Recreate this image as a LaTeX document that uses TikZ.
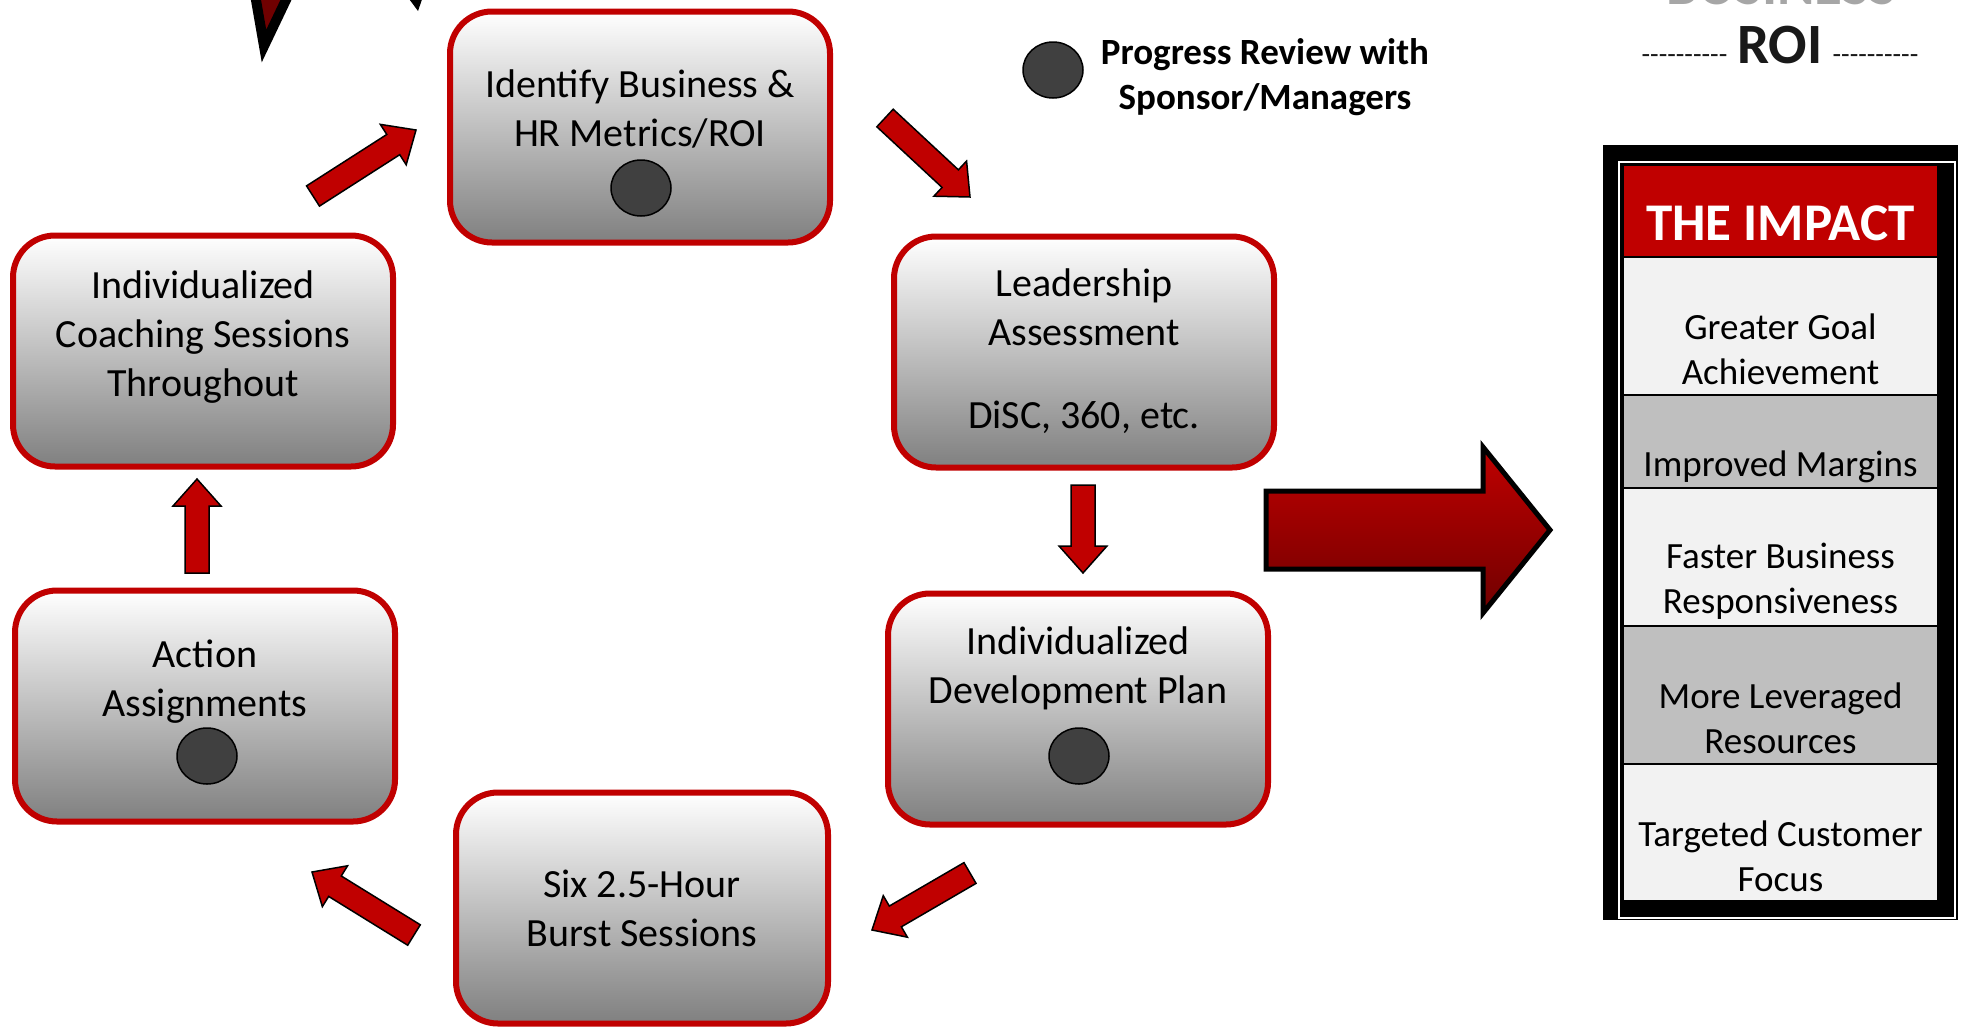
\documentclass[tikz,border=0pt]{standalone}
\usepackage{fontspec}
\setmainfont{Carlito}
\usetikzlibrary{positioning, calc, shapes.geometric}
\definecolor{brickred}{HTML}{C00000}
\definecolor{dotgray}{HTML}{404040}
\definecolor{rowlight}{HTML}{F2F2F2}
\definecolor{rowdark}{HTML}{BFBFBF}
\tikzset{
stepbox/.style={draw=brickred, line width=6pt, rounded corners=42pt, top color=white, bottom color=black!50,
  minimum width=380pt, minimum height=231pt, inner sep=0pt, align=center,
  font=\fontsize{40}{49}\selectfont, text depth=8pt},
review/.style={ellipse, draw=black, line width=1.5pt, fill=dotgray, minimum width=60pt, minimum height=56pt, inner sep=0pt},
cyclearrow/.style={draw=black, line width=1.5pt, fill=brickred, line join=miter},
impactrow/.style={draw=black, line width=1.5pt, minimum width=315pt, inner sep=0pt, outer sep=0pt,
  align=center, font=\fontsize{37}{45}\selectfont, text depth=8pt},
}
\newcommand{\blockarrow}[2]{% tail, tip
  \coordinate (hb) at ($(#2)!27pt!(#1)$);
  \path[cyclearrow] ($(#1)!12pt!90:(#2)$) -- ($(hb)!12pt!90:(#2)$) -- ($(hb)!24pt!90:(#2)$) -- (#2)
    -- ($(hb)!24pt!-90:(#2)$) -- ($(hb)!12pt!-90:(#2)$) -- ($(#1)!12pt!-90:(#2)$) -- cycle;
}
\newcommand{\dashrun}{\foreach \i in {1,...,10}{\mbox{-}}}

\begin{document}
\begin{tikzpicture}[x=1pt, y=-1pt]
    \useasboundingbox (0,0) rectangle (1963,1026);

    %cut arrows at the top edge
    \draw[black, line width=10pt, line join=miter, fill=red!44!black] (249,-40) -- (264,46) -- (305,-40);
    \fill[black] (401,-12) -- (418,11) -- (426,-12) -- cycle;

    %cycle boxes
    \node[stepbox, text height=46pt] (identify) at (640,127) {Identify Business \&\\HR Metrics/ROI};
    \node[stepbox, text height=160pt] (leader) at (1084,352) {Leadership\\Assessment\\[34pt]DiSC, 360, etc.};
    \node[stepbox, text height=28pt, text depth=40pt] (devplan) at (1078,709) {Individualized\\Development Plan};
    \node[stepbox, text height=84pt, minimum width=372pt] (burst) at (642,908) {Six 2.5-Hour\\Burst Sessions};
    \node[stepbox, text height=28pt] (action) at (205,706) {Action\\Assignments};
    \node[stepbox, text height=98pt] (coach) at (203,351) {Individualized\\Coaching Sessions\\Throughout};

    %progress review dots
    \node[review] (dot1) at (641,188) { };
    \node[review] (dot2) at (1079,756) { };
    \node[review] (dot3) at (207,756) { };

    %legend
    \node[review] (legenddot) at (1053,70) { };
    \node[font=\bfseries\fontsize{37}{45}\selectfont, align=center] (legend) at (1265,77) {Progress Review with\\Sponsor/Managers};

    %arrow ends
    \coordinate (arr1s) at (313,196);  \coordinate (arr1e) at (416,130);
    \coordinate (arr2s) at (885,118);  \coordinate (arr2e) at (970,197);
    \coordinate (arr3s) at (1083,485); \coordinate (arr3e) at (1083,573);
    \coordinate (arr4s) at (970,873);  \coordinate (arr4e) at (872,930);
    \coordinate (arr5s) at (414,935);  \coordinate (arr5e) at (312,872);
    \coordinate (arr6s) at (197,573);  \coordinate (arr6e) at (197,479);

    %cycle arrows
    \blockarrow{arr1s}{arr1e}
    \blockarrow{arr2s}{arr2e}
    \blockarrow{arr3s}{arr3e}
    \blockarrow{arr4s}{arr4e}
    \blockarrow{arr5s}{arr5e}
    \blockarrow{arr6s}{arr6e}

    %big arrow
    \draw[black, line width=5pt, line join=miter, top color=red!75!black, bottom color=red!44!black]
      (1266,491) -- (1483,491) -- (1483,447) -- (1550,530) -- (1483,613) -- (1483,569) -- (1266,569) -- cycle;

    %title
    \node[font=\bfseries\fontsize{57}{60}\selectfont, text=black!35, anchor=base] (business) at (1781,4) {BUSINESS};
    \node[anchor=base, text=black!90] (roi) at (1780,63) {{\fontsize{28}{28}\selectfont\dashrun}\hspace{10pt}{\bfseries\fontsize{57}{60}\selectfont ROI}\hspace{10pt}{\fontsize{28}{28}\selectfont\dashrun}};

    %impact panel
    \fill[black] (1603,145) rectangle (1958,920);
    \draw[white, line width=1.2pt] (1619,162) rectangle (1955,918);
    \node[impactrow, fill=brickred, minimum height=92pt, text=white, font=\bfseries\fontsize{53}{60}\selectfont,
      text height=58pt, text depth=0pt] (impact) at (1780.5,211) {THE IMPACT};
    \node[impactrow, fill=rowlight, minimum height=138pt, text height=124pt, below=0pt of impact] (goal) {Greater Goal\\Achievement};
    \node[impactrow, fill=rowdark, minimum height=93pt, text height=77pt, below=0pt of goal] (margin) {Improved Margins};
    \node[impactrow, fill=rowlight, minimum height=138pt, text height=120pt, below=0pt of margin] (faster) {Faster Business\\Responsiveness};
    \node[impactrow, fill=rowdark, minimum height=138pt, text height=124pt, below=0pt of faster] (leverage) {More Leveraged\\Resources};
    \node[impactrow, fill=rowlight, minimum height=137pt, text height=125pt, below=0pt of leverage] (focus) {Targeted Customer\\Focus};
\end{tikzpicture}
\end{document}
